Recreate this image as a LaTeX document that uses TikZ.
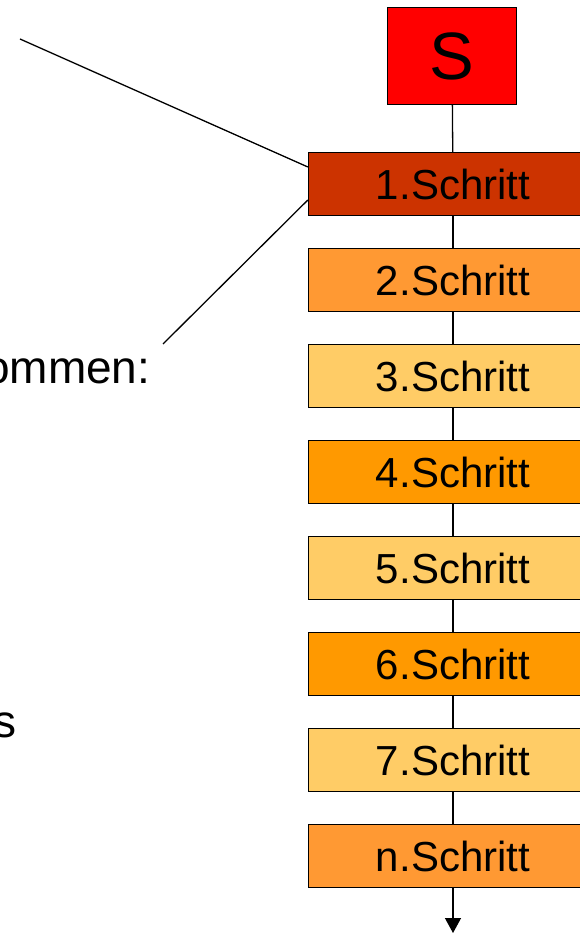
\documentclass[tikz,border=0pt]{standalone}
\usepackage{fontspec}
\setmainfont{Liberation Sans}
\usepackage{color}
\usetikzlibrary{arrows.meta}

\definecolor{stepred}{HTML}{CC3300}
\definecolor{steporange}{HTML}{FF9933}
\definecolor{steplight}{HTML}{FFCC66}
\definecolor{stepdark}{HTML}{FF9900}

\begin{document}
\begin{tikzpicture}[x=1pt, y=-1pt, line width=1.3pt,
    stepbox/.style={draw, black, minimum height=63pt, minimum width=289pt, inner sep=0pt, font=\fontsize{42}{50}\selectfont},
    sidetext/.style={anchor=base east, inner sep=0pt, font=\fontsize{46}{55}\selectfont}]

    \useasboundingbox (0,0) rectangle (580,933);
    \clip (0,0) rectangle (580,933);

    \node[draw, black, fill=red, minimum height=97pt, minimum width=129pt, inner sep=0pt, font=\fontsize{67}{80}\selectfont] at (452,56) (S) {S};

    \node[stepbox, fill=stepred] at (453,184) (A1) {1.Schritt};
    \node[stepbox, fill=steporange] at (453,280) (A2) {2.Schritt};
    \node[stepbox, fill=steplight] at (453,376) (A3) {3.Schritt};
    \node[stepbox, fill=stepdark] at (453,472) (A4) {4.Schritt};
    \node[stepbox, fill=steplight] at (453,568) (A5) {5.Schritt};
    \node[stepbox, fill=stepdark] at (453,664) (A6) {6.Schritt};
    \node[stepbox, fill=steplight] at (453,760) (A7) {7.Schritt};
    \node[stepbox, fill=steporange] at (453,856) (An) {n.Schritt};

    % text cut off at the left edge
    \node[sidetext] at (151,383) (T1) {ommen:};
    \node[sidetext] at (17,737) (T2) {s};

    \coordinate (L1) at (20,39);
    \coordinate (L2) at (163,344);
    \coordinate (End) at (453,933);

    \draw (S) -- (A1);
    \draw (A1) -- (A2);
    \draw (A2) -- (A3);
    \draw (A3) -- (A4);
    \draw (A4) -- (A5);
    \draw (A5) -- (A6);
    \draw (A6) -- (A7);
    \draw (A7) -- (An);
    \draw[-{Triangle[width=16pt, length=15pt]}] (An) -- (End);

    \draw (L1) -- ([yshift=17pt]A1.west);
    \draw ([yshift=-16pt]A1.west) -- (L2);

\end{tikzpicture}
\end{document}
